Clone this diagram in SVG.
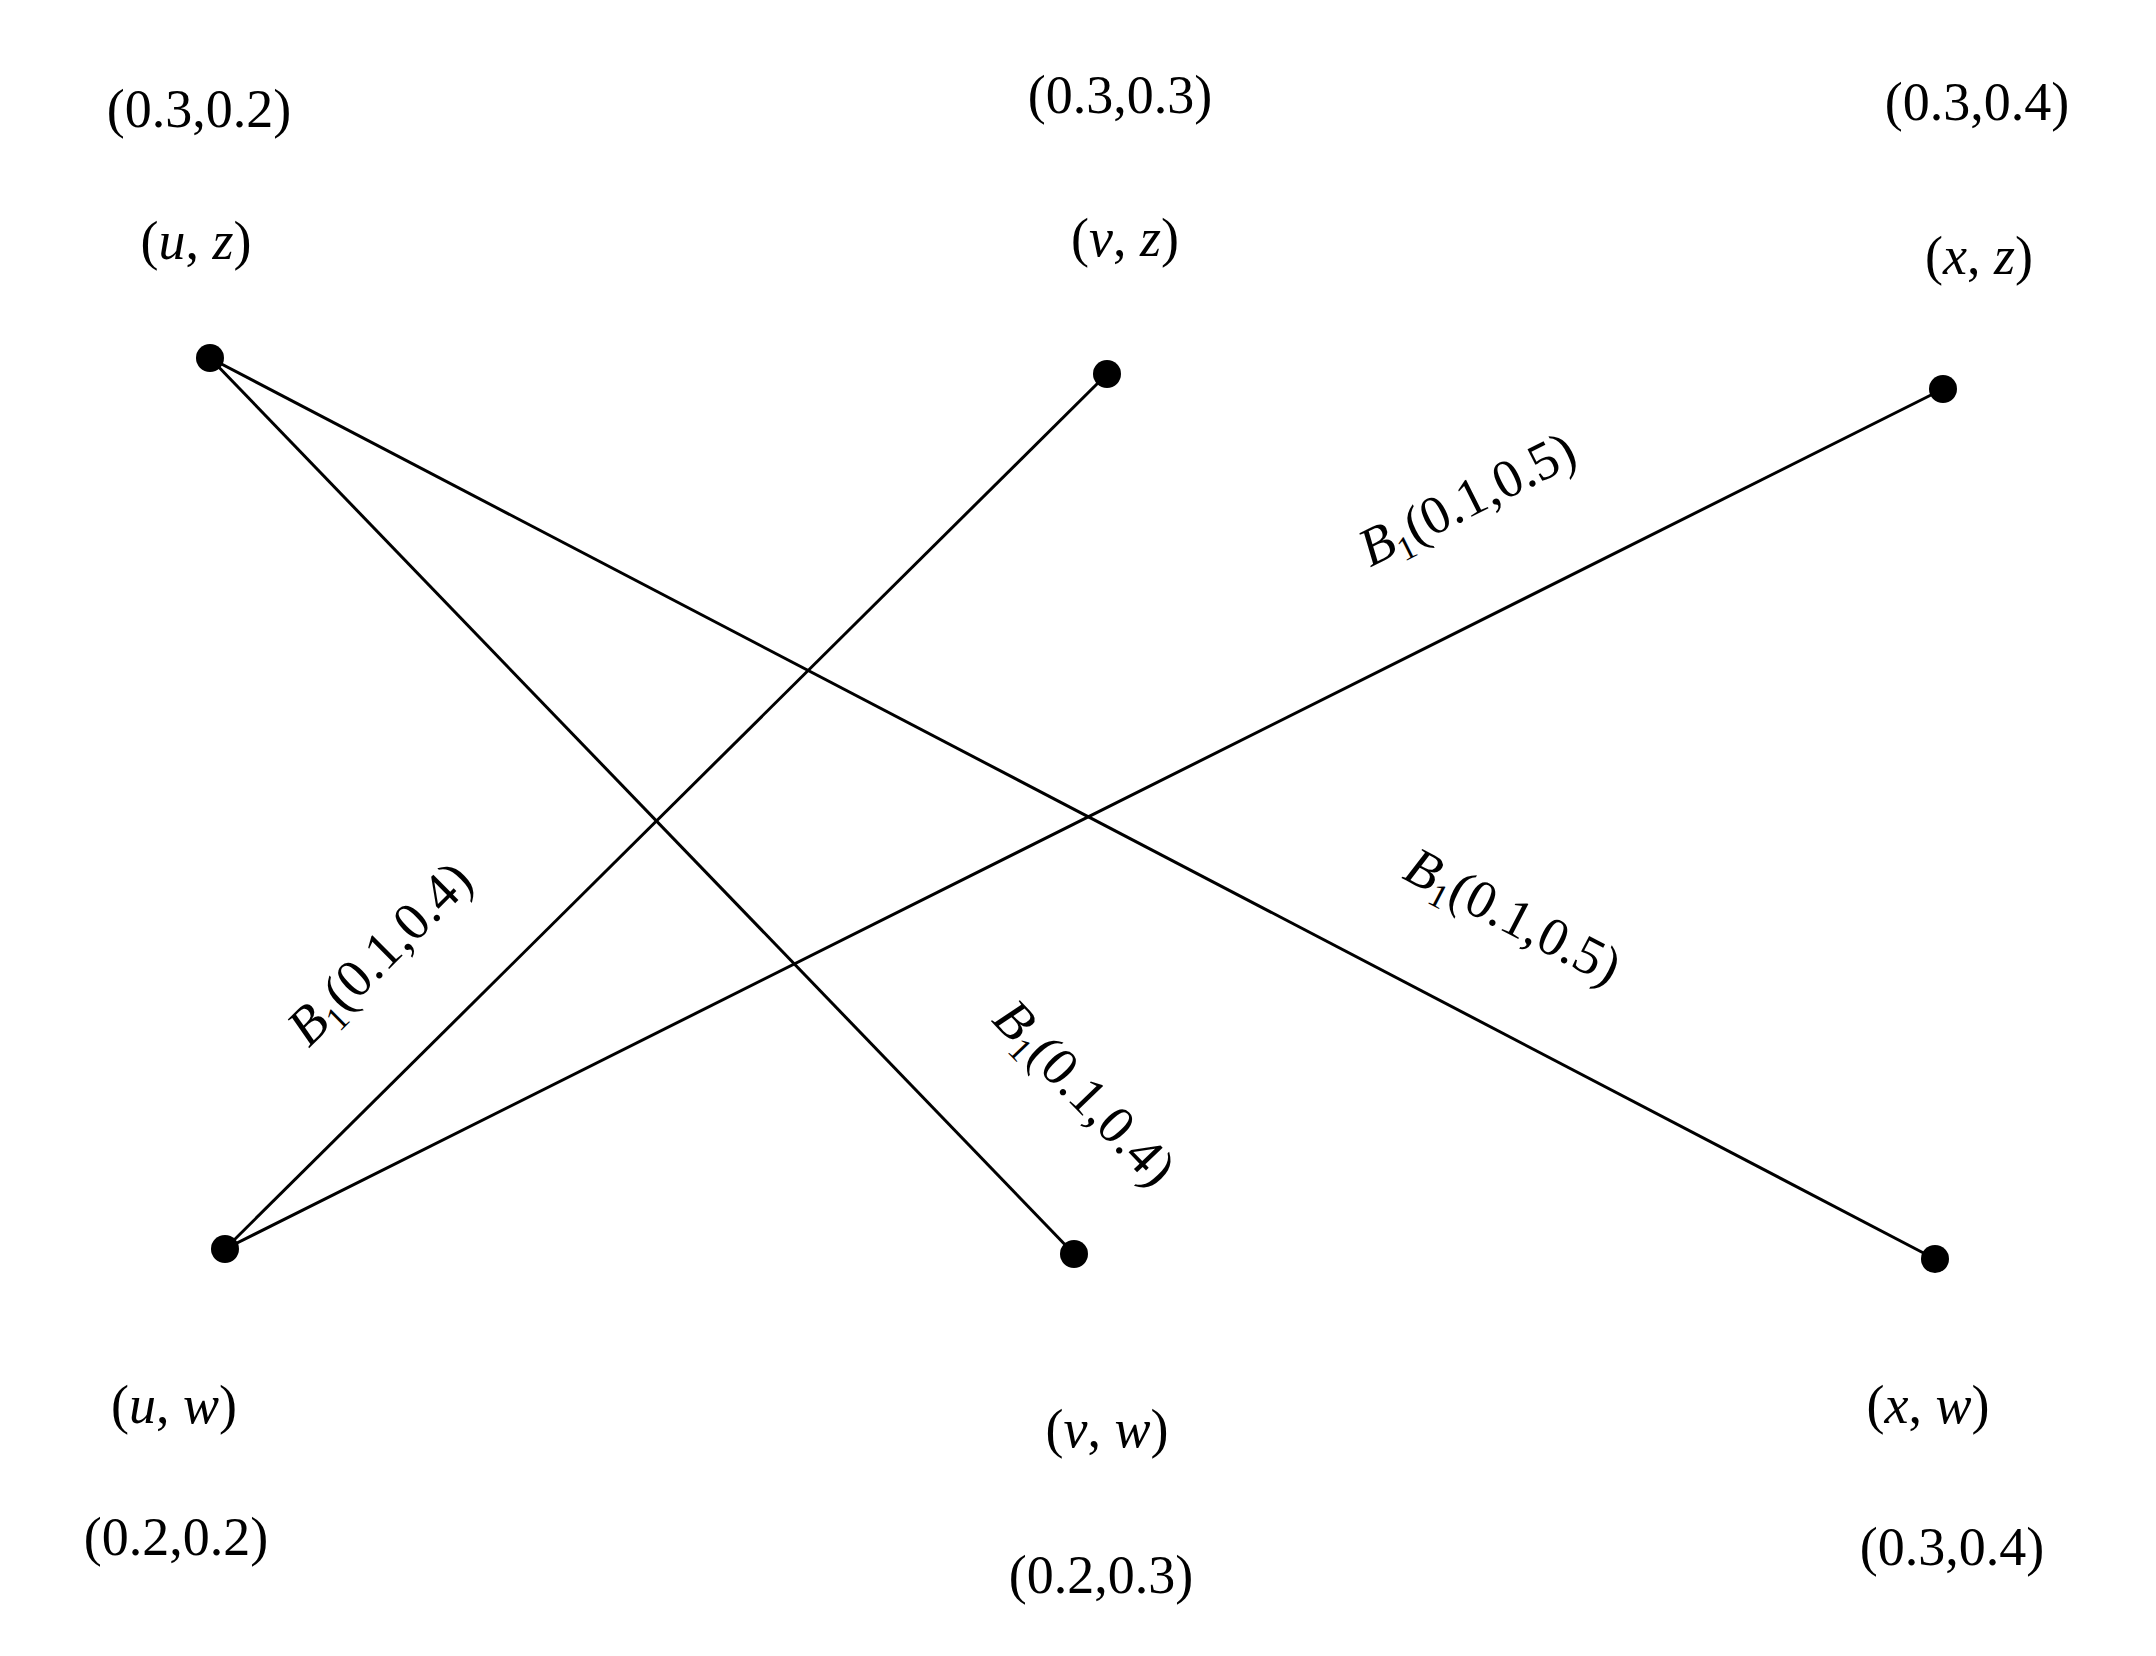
<svg xmlns="http://www.w3.org/2000/svg" width="2156" height="1656" viewBox="0 0 2156 1656">
<style>
text{font-family:"Liberation Serif","DejaVu Serif",serif;font-size:54px;fill:#000;text-anchor:middle}
.i{font-style:italic}
line{stroke:#000;stroke-width:3}
circle{fill:#000}
</style>
<rect width="2156" height="1656" fill="#fff"/>
<g id="connectors">
<line x1="210" y1="358" x2="1074" y2="1254"/>
<line x1="210" y1="358" x2="1935" y2="1259"/>
<line x1="225" y1="1249" x2="1107" y2="374"/>
<line x1="225" y1="1249" x2="1943" y2="389"/>
<text transform="translate(1475,515) rotate(-26.6)"><tspan class="i">B</tspan><tspan font-size="34" dy="10">1</tspan><tspan dy="-10">(0.1,0.5)</tspan></text>
<text transform="translate(392,966) rotate(-44.8)"><tspan class="i">B</tspan><tspan font-size="34" dy="10">1</tspan><tspan dy="-10">(0.1,0.4)</tspan></text>
<text transform="translate(1072,1105) rotate(46)"><tspan class="i">B</tspan><tspan font-size="34" dy="10">1</tspan><tspan dy="-10">(0.1,0.4)</tspan></text>
<text transform="translate(1505,932) rotate(27.5)"><tspan class="i">B</tspan><tspan font-size="34" dy="10">1</tspan><tspan dy="-10">(0.1,0.5)</tspan></text>
</g>
<g id="uz"><circle cx="210" cy="358" r="14"/><text x="199" y="127">(0.3,0.2)</text><text x="196" y="259">(<tspan class="i">u</tspan>, <tspan class="i">z</tspan>)</text></g>
<g id="vz"><circle cx="1107" cy="374" r="14"/><text x="1120" y="113">(0.3,0.3)</text><text x="1125" y="256">(<tspan class="i">v</tspan>, <tspan class="i">z</tspan>)</text></g>
<g id="xz"><circle cx="1943" cy="389" r="14"/><text x="1977" y="120">(0.3,0.4)</text><text x="1979" y="274">(<tspan class="i">x</tspan>, <tspan class="i">z</tspan>)</text></g>
<g id="uw"><circle cx="225" cy="1249" r="14"/><text x="174" y="1423">(<tspan class="i">u</tspan>, <tspan class="i">w</tspan>)</text><text x="176" y="1555">(0.2,0.2)</text></g>
<g id="vw"><circle cx="1074" cy="1254" r="14"/><text x="1107" y="1447">(<tspan class="i">v</tspan>, <tspan class="i">w</tspan>)</text><text x="1101" y="1593">(0.2,0.3)</text></g>
<g id="xw"><circle cx="1935" cy="1259" r="14"/><text x="1928" y="1423">(<tspan class="i">x</tspan>, <tspan class="i">w</tspan>)</text><text x="1952" y="1565">(0.3,0.4)</text></g>
</svg>
